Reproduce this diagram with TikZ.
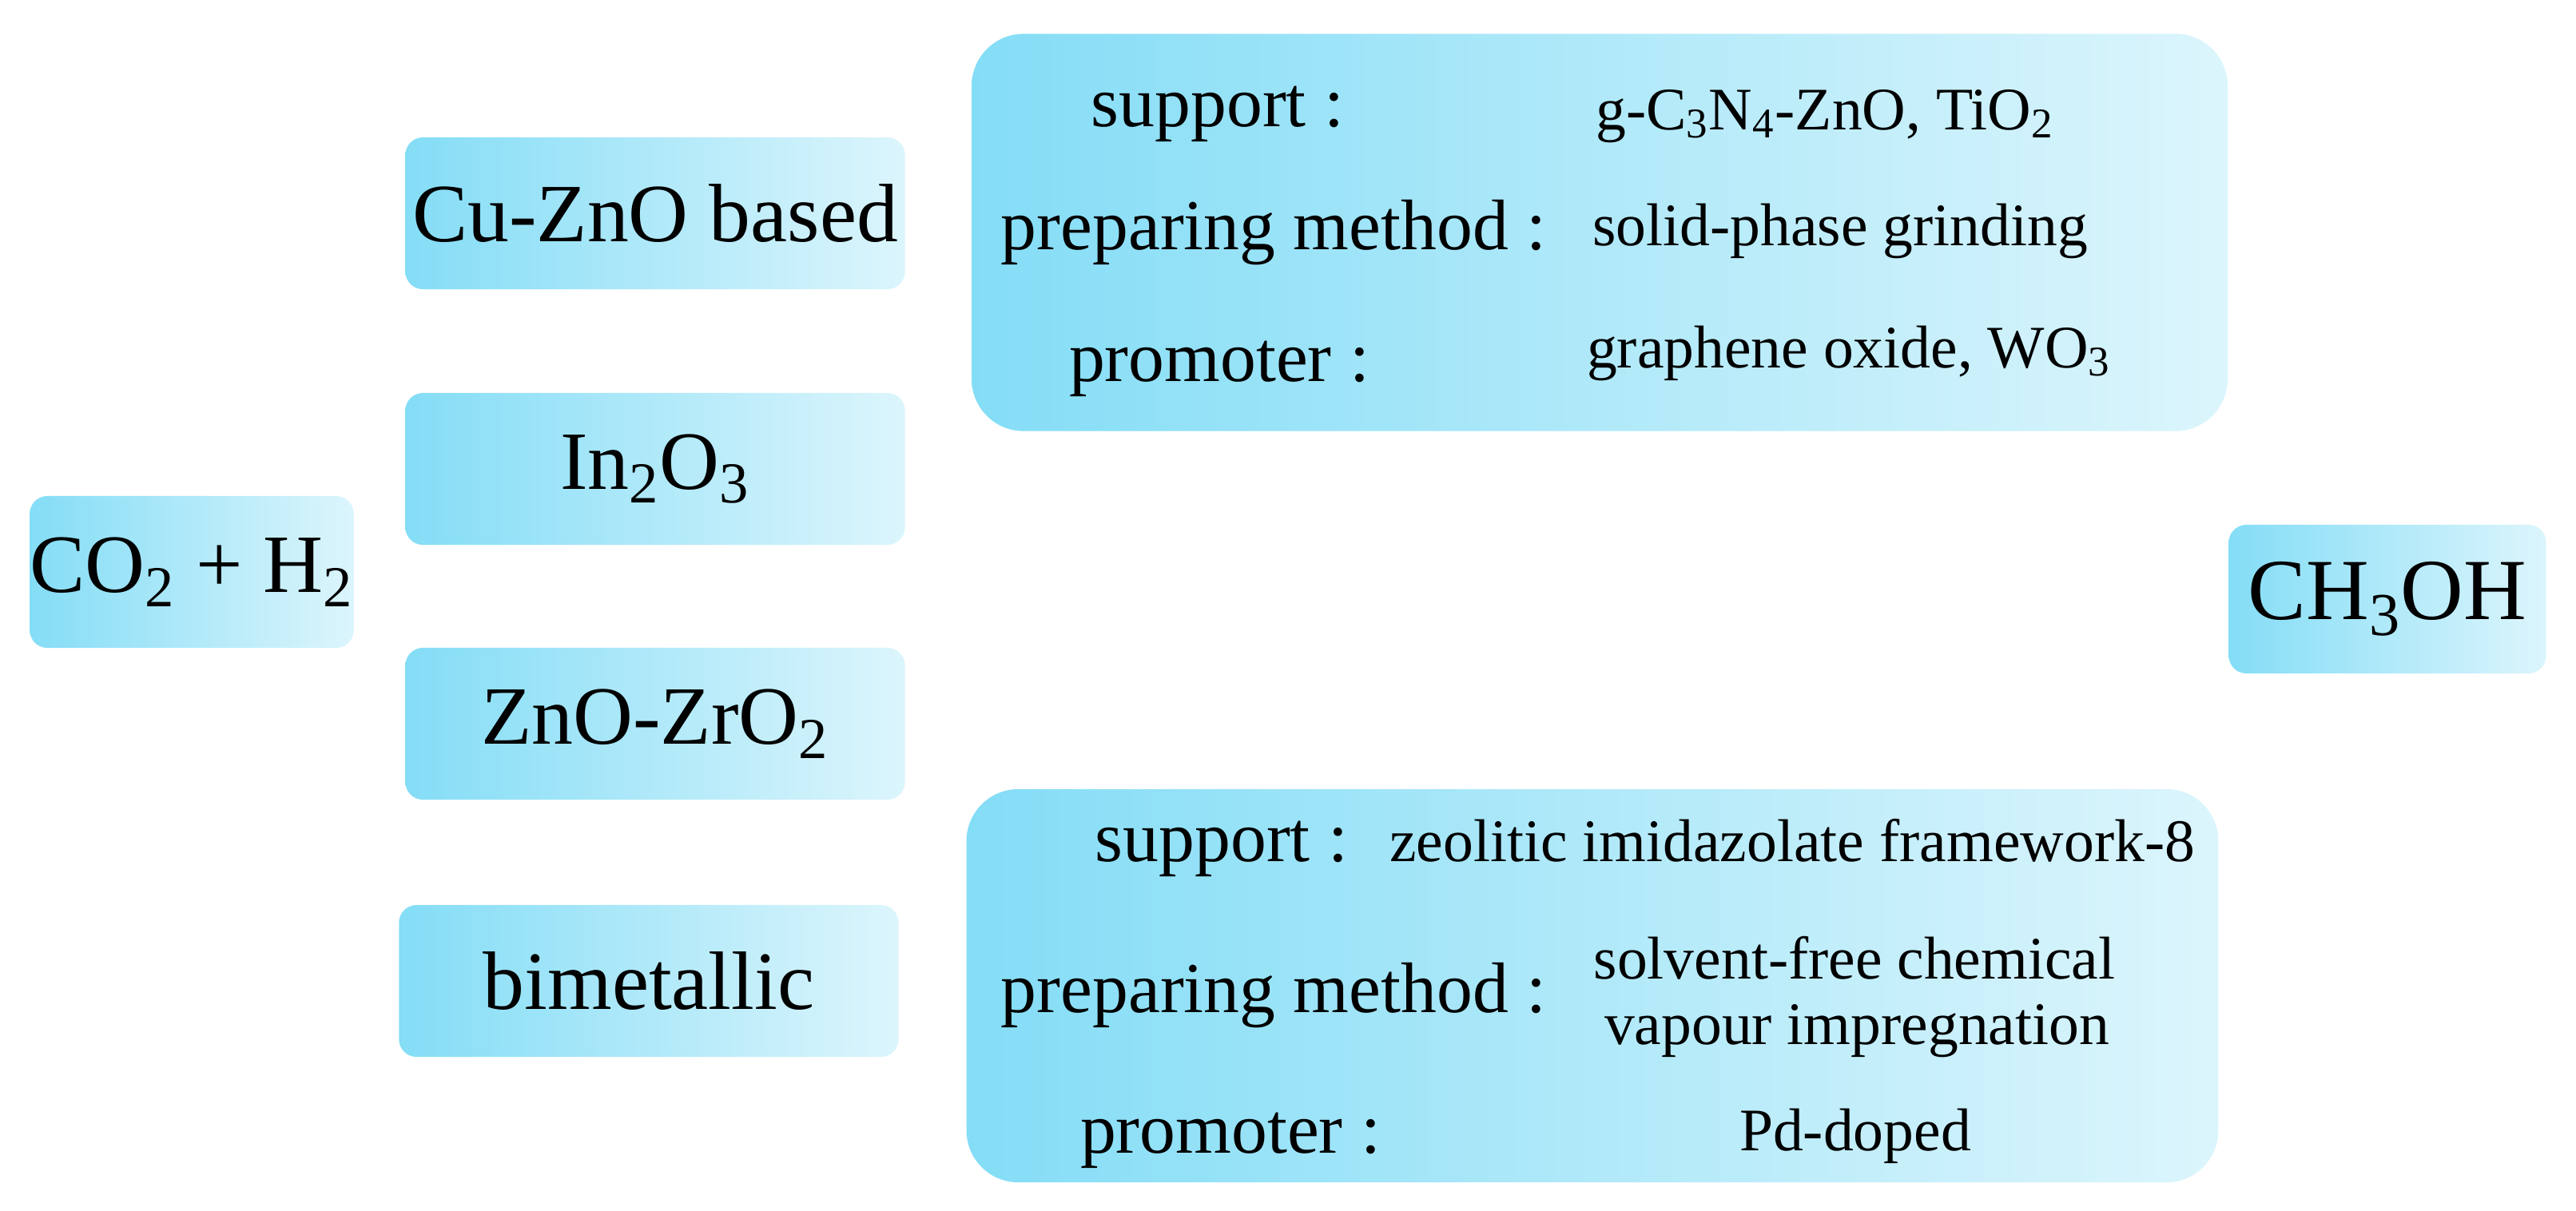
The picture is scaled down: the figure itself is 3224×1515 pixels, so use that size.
\documentclass[tikz,border=0pt]{standalone}
\usepackage{fontspec}
\setmainfont{Liberation Serif}
\definecolor{boxleft}{RGB}{132,221,246}
\definecolor{boxright}{RGB}{220,245,252}

\begin{document}
\begin{tikzpicture}[x=0.01cm,y=-0.01cm,
    smallbox/.style={rounded corners=0.22cm,left color=boxleft,right color=boxright,
      inner sep=0pt,minimum height=1.9cm,font=\fontsize{29.5}{33}\selectfont},
    bigbox/.style={rounded corners=0.65cm,left color=boxleft,right color=boxright,
      inner sep=0pt},
    lab/.style={anchor=base,font=\fontsize{25.5}{28}\selectfont},
    val/.style={anchor=base,font=\fontsize{21.5}{24}\selectfont}]
  \useasboundingbox (0,0) rectangle (3224,1515);

  \node[smallbox,minimum width=4.0cm] (feed) at (240,716) {CO\textsubscript{2} + H\textsubscript{2}};
  \node[smallbox,minimum width=6.25cm] (cuzno) at (820,267) {Cu-ZnO based};
  \node[smallbox,minimum width=6.25cm] (inox) at (820,587) {In\textsubscript{2}O\textsubscript{3}};
  \node[smallbox,minimum width=6.25cm] (znzr) at (820,906) {ZnO-ZrO\textsubscript{2}};
  \node[smallbox,minimum width=6.25cm] (bimet) at (812,1228) {bimetallic};
  \node[smallbox,minimum width=3.97cm,minimum height=1.86cm,font=\fontsize{31}{34}\selectfont]
    (meoh) at (2988,750) {CH\textsubscript{3}OH};

  \node[bigbox,minimum width=15.71cm,minimum height=4.97cm] (topbox) at (2002,291) {};
  \node[lab] (tsup) at (1524,158) {support :};
  \node[val] (tsupv) at (2284,162) {g-C\textsubscript{3}N\textsubscript{4}-ZnO, TiO\textsubscript{2}};
  \node[lab] (tprep) at (1594,312) {preparing method :};
  \node[val] (tprepv) at (2303,307) {solid-phase grinding};
  \node[lab] (tprom) at (1526,477) {promoter :};
  \node[val] (tpromv) at (2314,460) {graphene oxide, WO\textsubscript{3}};

  \node[bigbox,minimum width=15.66cm,minimum height=4.92cm] (botbox) at (1993,1234) {};
  \node[lab] (bsup) at (1529,1078) {support :};
  \node[val] (bsupv) at (2243,1078) {zeolitic imidazolate framework-8};
  \node[lab] (bprep) at (1594,1267) {preparing method :};
  \node[val] (bprepv) at (2321,1225) {solvent-free chemical};
  \node[val] (bprepw) at (2324,1307) {vapour impregnation};
  \node[lab] (bprom) at (1540,1443) {promoter :};
  \node[val] (bpromv) at (2322,1440) {Pd-doped};
\end{tikzpicture}
\end{document}
